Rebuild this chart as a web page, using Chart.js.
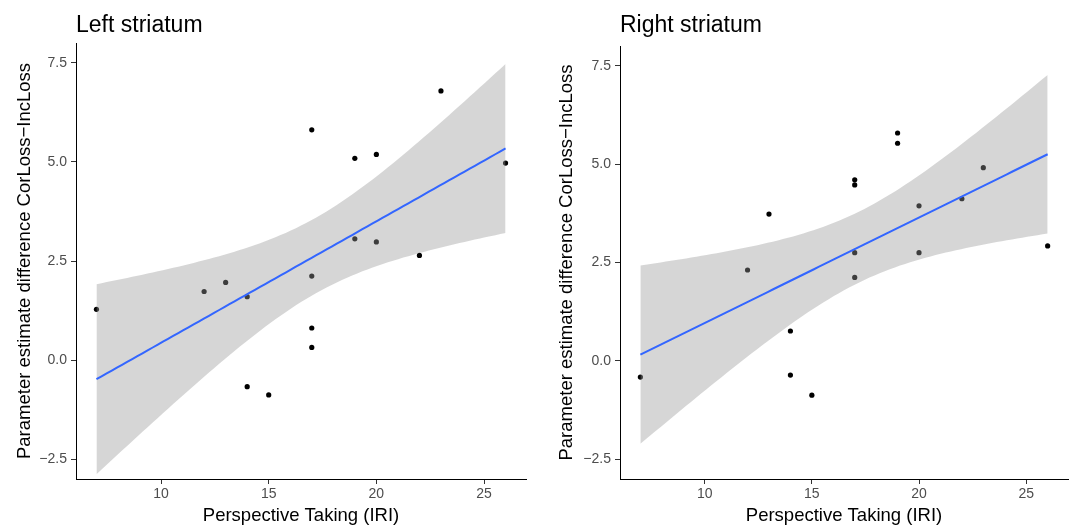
<!DOCTYPE html>
<html>
<head>
<meta charset="utf-8">
<script src="https://cdn.jsdelivr.net/npm/chart.js@4/dist/chart.umd.min.js"></script>
<style>
  body { margin: 0; background: #fff; }
  #wrap { position: relative; width: 1072px; height: 525px; overflow: hidden; }
  canvas { position: absolute; top: 0; }
</style>
</head>
<body>
<div id="wrap">
  <canvas id="leftChart" width="540" height="525" style="left:0px"></canvas>
  <canvas id="rightChart" width="532" height="525" style="left:540px"></canvas>
</div>
<script>
// data
var leftX  = [23, 17, 19, 20, 26, 19, 20, 22, 7, 12, 13, 14, 17, 17, 17, 14, 15];
var leftY  = [6.79, 5.81, 5.09, 5.19, 4.97, 3.06, 2.98, 2.64, 1.28, 1.73, 1.96, 1.60, 2.12, 0.81, 0.32, -0.67, -0.88];
var rightX = [19, 19, 17, 17, 13, 23, 22, 20, 17, 20, 26, 12, 17, 14, 14, 15, 7];
var rightY = [5.79, 5.53, 4.60, 4.47, 3.73, 4.91, 4.12, 3.94, 2.75, 2.75, 2.92, 2.31, 2.12, 0.76, -0.36, -0.87, -0.41];

var xTicks = [10, 15, 20, 25];
var yTicks = [-2.5, 0, 2.5, 5, 7.5];

var xLabel = 'Perspective Taking (IRI)';
var yLabel = 'Parameter estimate difference CorLoss\u2212IncLoss';

// lm fit + 95% band, like geom_smooth(method = "lm")
var T_975 = 2.131; // df = 15
function lmBand(xs, ys) {
  var n = xs.length, mx = 0, my = 0;
  for (var i = 0; i < n; i++) { mx += xs[i]; my += ys[i]; }
  mx /= n; my /= n;
  var sxx = 0, sxy = 0;
  for (var i = 0; i < n; i++) { sxx += (xs[i] - mx) * (xs[i] - mx); sxy += (xs[i] - mx) * (ys[i] - my); }
  var b = sxy / sxx, a = my - b * mx;
  var sse = 0;
  for (var i = 0; i < n; i++) { var r = ys[i] - (a + b * xs[i]); sse += r * r; }
  var s = Math.sqrt(sse / (n - 2));
  var lo = Math.min.apply(null, xs), hi = Math.max.apply(null, xs);
  var fit = [], upper = [], lower = [];
  for (var k = 0; k <= 80; k++) {
    var x = lo + (hi - lo) * k / 80;
    var yh = a + b * x;
    var se = s * Math.sqrt(1 / n + (x - mx) * (x - mx) / sxx);
    fit.push({x: x, y: yh});
    upper.push({x: x, y: yh + T_975 * se});
    lower.push({x: x, y: yh - T_975 * se});
  }
  return {fit: fit, upper: upper, lower: lower};
}

var panelTitle = {
  id: 'panelTitle',
  afterDraw: function(chart, args, opts) {
    var ctx = chart.ctx;
    ctx.save();
    ctx.font = '23px "Liberation Sans", Arial, sans-serif';
    ctx.fillStyle = '#000';
    ctx.textBaseline = 'alphabetic';
    ctx.textAlign = 'left';
    ctx.fillText(opts.text, chart.chartArea.left, 32);
    ctx.restore();
  }
};

function makePanel(id, title, xs, ys, cfg) {
  var band = lmBand(xs, ys);
  var pts = xs.map(function(x, i) { return {x: x, y: ys[i]}; });
  return new Chart(document.getElementById(id), {
    type: 'line',
    data: {
      datasets: [
        { data: band.fit, borderColor: '#3366FF', borderWidth: 2, pointRadius: 0, fill: false, order: 0 },
        { data: band.upper, borderWidth: 0, borderColor: 'rgba(0,0,0,0)', pointRadius: 0,
          fill: '+1', backgroundColor: 'rgba(153,153,153,0.4)', order: 1 },
        { data: band.lower, borderWidth: 0, borderColor: 'rgba(0,0,0,0)', pointRadius: 0, fill: false, order: 2 },
        { data: pts, showLine: false, pointRadius: 2.6, pointBorderWidth: 0,
          pointBackgroundColor: '#000', order: 3 }
      ]
    },
    options: {
      responsive: false,
      animation: false,
      layout: { padding: { left: 0, right: cfg.padRight, top: cfg.top, bottom: 0 } },
      plugins: {
        legend: { display: false },
        tooltip: { enabled: false },
        panelTitle: { text: title }
      },
      scales: {
        x: {
          type: 'linear',
          min: 6.05, max: 26.95,
          afterBuildTicks: function(s) { s.ticks = xTicks.map(function(v) { return {value: v}; }); },
          afterFit: function(s) { s.height = 46; },
          grid: { drawOnChartArea: false, drawTicks: true, tickLength: 5, color: '#333' },
          border: { display: true, color: '#000', width: 1 },
          ticks: { color: '#4D4D4D', padding: 2, maxRotation: 0,
                   font: { family: '"Liberation Sans", Arial, sans-serif', size: 14 },
                   callback: function(v) { return String(v); } },
          title: { display: true, text: xLabel, color: '#000', padding: { top: 0, bottom: -2 },
                   font: { family: '"Liberation Sans", Arial, sans-serif', size: 18.5 } }
        },
        y: {
          min: -3, max: 8,
          afterBuildTicks: function(s) { s.ticks = yTicks.map(function(v) { return {value: v}; }); },
          afterFit: function(s) { s.width = cfg.yWidth; },
          grid: { drawOnChartArea: false, drawTicks: true, tickLength: 5, color: '#333' },
          border: { display: true, color: '#000', width: 1 },
          ticks: { color: '#4D4D4D', padding: 4,
                   font: { family: '"Liberation Sans", Arial, sans-serif', size: 14 },
                   callback: function(v) { return v.toFixed(1).replace('-', '\u2212'); } },
          title: { display: true, text: yLabel, color: '#000', padding: { top: cfg.titlePad, bottom: 0 },
                   font: { family: '"Liberation Sans", Arial, sans-serif', size: 18.5 } }
        }
      }
    },
    plugins: [panelTitle]
  });
}

makePanel('leftChart', 'Left striatum', leftX, leftY, { padRight: 14, top: 43, yWidth: 76, titlePad: 14 });
makePanel('rightChart', 'Right striatum', rightX, rightY, { padRight: 3, top: 46, yWidth: 80, titlePad: 16 });
</script>
</body>
</html>
